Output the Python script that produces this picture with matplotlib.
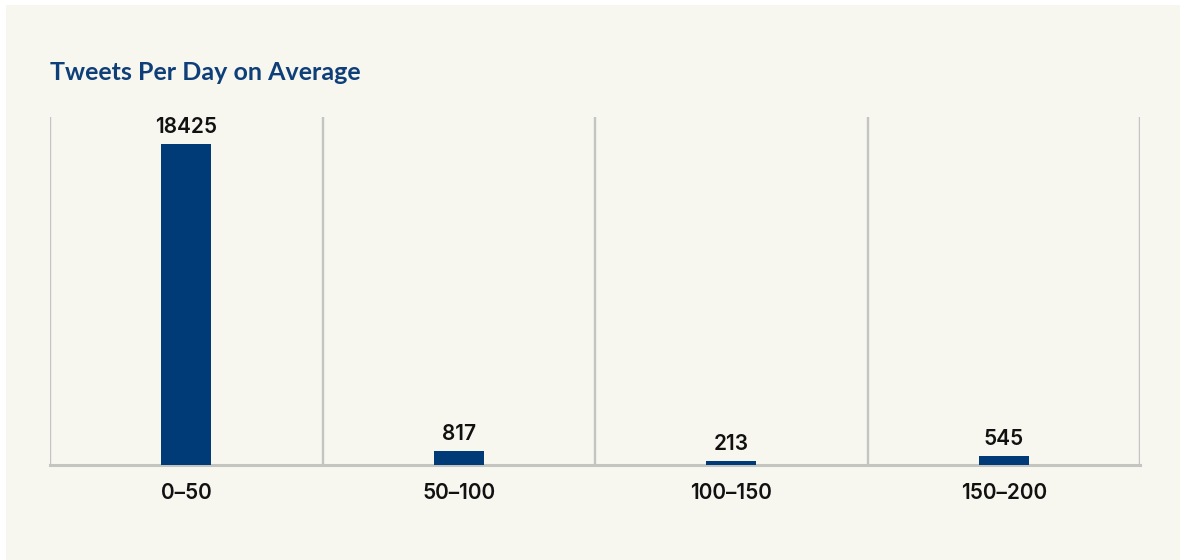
import matplotlib
matplotlib.use("Agg")
import matplotlib.pyplot as plt
from matplotlib.patches import Rectangle

categories = ["0–50", "50–100", "100–150", "150–200"]
values = [18425, 817, 213, 545]
title = "Tweets Per Day on Average"

W, H, DPI = 1180, 560, 100
bg = "#f7f7f0"
bar_color = "#003b78"
grid_color = "#c4c4c0"

fig = plt.figure(figsize=(W / DPI, H / DPI), dpi=DPI, facecolor="white")
fig.patches.append(Rectangle((6 / W, 0), 1 - 6 / W, (H - 5) / H,
                             transform=fig.transFigure, facecolor=bg,
                             edgecolor="none", zorder=-10))

ax = fig.add_axes([50 / W, (H - 465) / H, (1140 - 50) / W, (465 - 117) / H])
ax.set_zorder(1)
ax.set_facecolor("none")
x = list(range(len(categories)))
bars = ax.bar(x, values, width=0.185, color=bar_color, zorder=3)
ax.set_xlim(-0.5, len(categories) - 0.5)
ax.set_ylim(0, 20000)
for b in [i - 0.5 for i in range(len(categories) + 1)]:
    ax.axvline(b, color=grid_color, lw=1.7, zorder=1)
for s in ["top", "left", "right"]:
    ax.spines[s].set_visible(False)
ax.spines["bottom"].set_color(grid_color)
ax.spines["bottom"].set_linewidth(2.2)
ax.set_yticks([])
ax.set_xticks(x)
ax.set_xticklabels(categories, fontsize=15, fontfamily="Inter", fontweight="semibold", color="#111111")
ax.tick_params(axis="x", length=0, pad=13)

for xi, v in zip(x, values):
    ax.annotate(str(v), (xi, v), xytext=(0, 5), textcoords="offset points",
                ha="center", va="bottom", fontsize=15, fontfamily="Inter",
                fontweight="semibold", color="#111111")

fig.text(50 / W, 1 - 72 / H, title, fontsize=18, fontfamily="Lato",
         fontweight="bold", color="#0f3f78", ha="left", va="center")

fig.savefig("out.png", dpi=DPI, facecolor="white")
